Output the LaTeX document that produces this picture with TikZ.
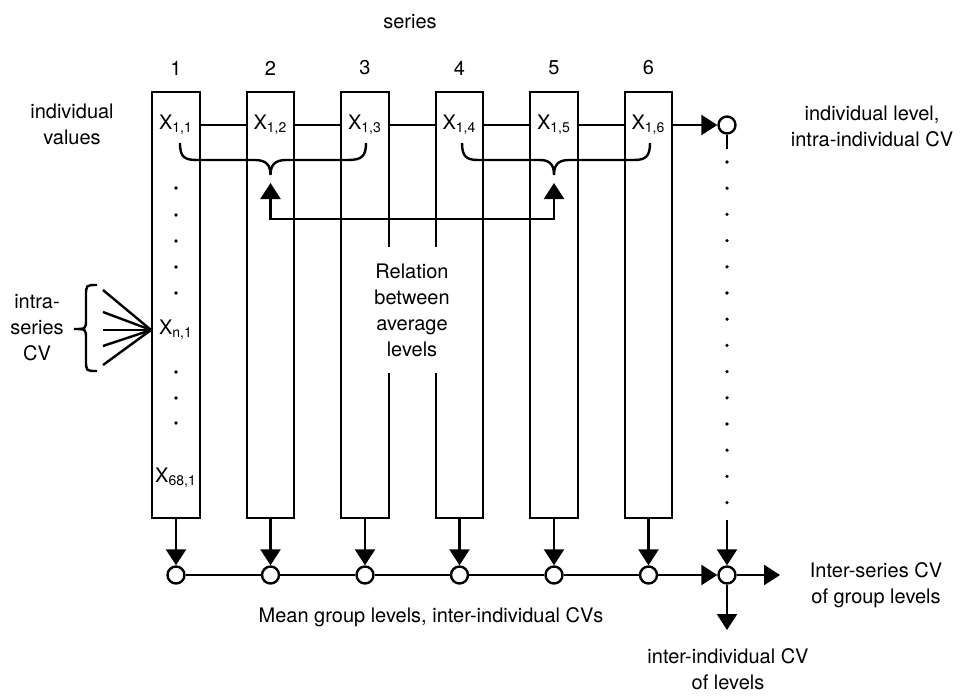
\documentclass[tikz,border=0pt]{standalone}
\usepackage{fontspec}
\setmainfont{TeX Gyre Heros}
\usetikzlibrary{arrows.meta, positioning, calc}

\tikzset{
  colbox/.style={draw, minimum width=23.75pt, minimum height=213pt, inner sep=0pt},
  lvl/.style={circle, draw, fill=white, minimum size=8.5pt, inner sep=0pt},
  lbl/.style={font=\fontsize{10}{13}\selectfont, align=center},
}

\begin{document}
\begin{tikzpicture}[x=0.5pt, y=-0.5pt, line width=1.2pt, >={Triangle[length=8pt,width=10pt]}]
  \useasboundingbox (0,0) rectangle (961,696);

  % Series columns
  \foreach \i/\cx in {1/176, 2/270.5, 3/365, 4/459.5, 5/554, 6/648.5} {
    \node[colbox] (col\i) at (\cx,305) {};
    \node[lbl] (num\i) at (\cx,68) {\i};
    \node[lbl] (x\i) at (\cx,125) {X\textsubscript{1,\i}};
    \node[lvl] (m\i) at (\cx,575) {};
    \draw[->] (col\i.south) -- (m\i);
  }
  \node[lbl] (series) at (410,22) {series};

  % Links between columns
  \foreach \a/\b in {1/2,2/3,3/4,4/5,5/6} {
    \draw (col\a.east |- x\a) -- (col\b.west |- x\b);
    \draw (m\a) -- (m\b);
  }

  % Individual level
  \node[lvl] (ind) at (727,125) {};
  \draw[->] (col6.east |- x6) -- (ind);
  \draw (ind.south) -- ++(0,14);
  \foreach \k in {0,...,13}
    \fill (727,162+26.2*\k) circle (0.9pt);
  \coordinate (vend) at (727,520);

  % Group levels
  \node[lvl] (tot) at (727,575) {};
  \draw[->] (vend) -- (tot);
  \draw[->] (m6) -- (tot);
  \coordinate (totR) at (780,575);
  \coordinate (totD) at (727,630);
  \draw[->] (tot) -- (totR);
  \draw[->] (tot) -- (totD);

  % Values in series 1
  \foreach \y in {188,215,241,267,293,372,398,423}
    \fill (176,\y) circle (0.9pt);
  \node[lbl] (xn) at (176,330) {X\textsubscript{n,1}};
  \node[lbl] (xlast) at (176,478) {X\textsubscript{68,1}};

  % Intra-series fan and brace
  \coordinate (fan) at (col1.west |- xn);
  \foreach \y in {290,312,330,346,365}
    \draw (103,\y) -- (fan);
  \draw (97,285) .. controls (86,285) .. (86,296) -- (86,319)
    .. controls (86,329) .. (74,329) .. controls (86,329) .. (86,339)
    -- (86,360) .. controls (86,371) .. (97,371);
  \node[lbl] (intra) at (37,328) {intra-\\series\\CV};

  % Averages of series
  \draw (180,143) .. controls (180,158) and (185,160) .. (198,160) -- (255,160)
    .. controls (266,160) and (270.5,165) .. (270.5,175)
    .. controls (270.5,165) and (275,160) .. (286,160) -- (348,160)
    .. controls (362,160) and (366,156) .. (366,143);
  \draw (462,143) .. controls (462,156) and (466,160) .. (478,160) -- (540,160)
    .. controls (550,160) and (554,165) .. (554,175)
    .. controls (554,165) and (558,160) .. (569,160) -- (634,160)
    .. controls (646,160) and (650,156) .. (650,143);
  \coordinate (up2) at (270.5,183);
  \coordinate (up5) at (554,183);
  \draw[<->] (up2) -- ++(0,36) -| (up5);
  \node[lbl, fill=white, minimum height=63pt, inner xsep=2pt] (rel) at (412,310)
    {Relation\\between\\average\\levels};

  % Labels
  \node[lbl] (indval) at (72,124) {individual\\values};
  \node[lbl] (indlvl) at (872,126) {individual level,\\intra-individual CV};
  \node[lbl] (meanlvl) at (431,617) {Mean group levels, inter-individual CVs};
  \node[lbl] (interser) at (876,585) {Inter-series CV\\of group levels};
  \node[lbl] (interind) at (728,669) {inter-individual CV\\of levels};
\end{tikzpicture}
\end{document}
